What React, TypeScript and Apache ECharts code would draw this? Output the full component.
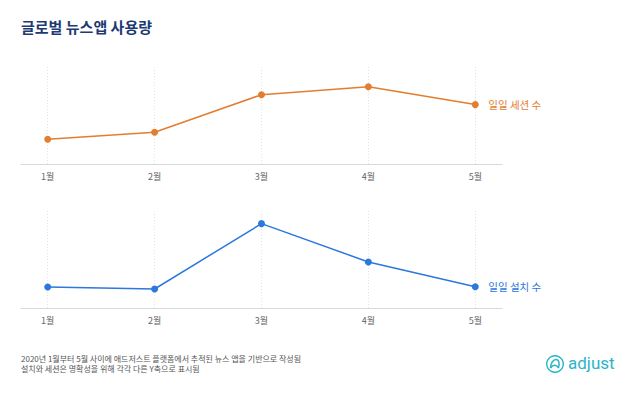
import React, { useEffect, useRef } from "react";
import * as echarts from "echarts";

const months: number[] = [1, 2, 3, 4, 5];
const monthLabel = (m: number) => `${m}월`;
const sessionsName = "일일 세션 수";
const installsName = "일일 설치 수";
const sessions: number[] = [25, 32, 70, 78, 60];
const installs: number[] = [21.2, 19.2, 85.2, 46.5, 21.5];
const titleText = "글로벌 뉴스앱 사용량";
const noteLines: string[] = [
  "2020년 1월부터 5월 사이에 애드저스트 플랫폼에서 추적된 뉴스 앱을 기반으로 작성됨",
  "설치와 세션은 명확성을 위해 각각 다른 Y축으로 표시됨",
];

const FONT = "'Noto Sans CJK KR', 'Noto Sans', sans-serif";
const ORANGE = "#e47d2f";
const BLUE = "#2b78de";
const TEAL = "#2bb4c9";

echarts.graphic.registerShape(
  "adjustMark",
  echarts.graphic.extendPath(
    "M -4.5 4 C -4.5 -1 -1.5 -5 1.5 -4.5 C 4.5 -4 4.5 1 3.5 4 M -4.5 4 C -2.5 1 1 -0.5 3.5 4",
    {}
  ) as any
);

export default function App() {
  const ref = useRef<HTMLDivElement>(null);
  useEffect(() => {
    if (!ref.current) return;
    const chart = echarts.init(ref.current, null, { renderer: "svg" });
    const xAxisBase = (gridIndex: number) => ({
      type: "value" as const,
      gridIndex,
      min: 0.75,
      max: 5.25,
      interval: 0.25,
      axisLine: { show: true, lineStyle: { color: "#d9d9d9", width: 1 } },
      axisTick: { show: false },
      splitLine: { show: false },
      axisLabel: {
        color: "#666",
        fontSize: 9,
        fontFamily: FONT,
        margin: 8,
        showMinLabel: true,
        showMaxLabel: true,
        formatter: (v: number) => (Number.isInteger(v) ? monthLabel(v) : ""),
      },
    });
    const yAxisBase = (gridIndex: number) => ({
      type: "value" as const,
      gridIndex,
      min: 0,
      max: 100,
      show: false,
      splitLine: { show: false },
    });
    const vLines = {
      silent: true,
      z: 0,
      zlevel: 0,
      symbol: ["none", "none"],
      label: { show: false },
      emphasis: { disabled: true },
      lineStyle: { color: "#e2e2e2", type: [1, 2] as any, width: 1 },
      data: months.map((m) => ({ xAxis: m })),
    };
    const seriesBase = (
      name: string,
      data: number[],
      color: string,
      idx: number
    ) => ({
      type: "line" as const,
      name,
      xAxisIndex: idx,
      yAxisIndex: idx,
      data: months.map((m, i) => [m, data[i]]),
      symbol: "circle",
      symbolSize: 7,
      showSymbol: true,
      itemStyle: { color },
      lineStyle: { color, width: 1.5 },
      label: { show: false },
      endLabel: {
        show: true,
        formatter: name,
        color,
        fontSize: 10.5,
        fontFamily: FONT,
        distance: 13,
      },
      markLine: vLines,
      z: 3,
    });
    chart.setOption({
      animation: false,
      backgroundColor: "#fff",
      grid: [
        { left: 21, right: 138, top: 65, height: 99 },
        { left: 21, right: 138, top: 209, height: 99 },
      ],
      xAxis: [xAxisBase(0), xAxisBase(1)],
      yAxis: [yAxisBase(0), yAxisBase(1)],
      series: [
        seriesBase(sessionsName, sessions, ORANGE, 0),
        seriesBase(installsName, installs, BLUE, 1),
      ],
      graphic: [
        {
          type: "text",
          left: 21,
          top: 19,
          style: {
            text: titleText,
            fill: "#1d3a73",
            fontSize: 15,
            fontWeight: "bold",
            fontFamily: FONT,
          },
        },
        {
          type: "text",
          left: 21,
          top: 353,
          style: {
            text: noteLines.join("\n"),
            fill: "#555",
            fontSize: 8,
            lineHeight: 10.5,
            fontFamily: FONT,
          },
        },
        {
          type: "group",
          left: 546,
          top: 354,
          children: [
            {
              type: "ring",
              shape: { cx: 10, cy: 12, r: 9, r0: 7.6 },
              style: { fill: TEAL },
            },
            {
              type: "adjustMark",
              x: 10,
              y: 12,
              style: { stroke: TEAL, lineWidth: 1.5, fill: "none" },
            },
            {
              type: "text",
              x: 23,
              y: 2,
              style: {
                text: "adjust",
                fill: TEAL,
                fontSize: 17,
                fontFamily: "Roboto, 'Open Sans', sans-serif",
              },
            },
          ],
        },
      ],
    });
    return () => chart.dispose();
  }, []);
  return (
    <div
      ref={ref}
      style={{ position: "absolute", left: 0, top: 0, width: 640, height: 395 }}
    />
  );
}
